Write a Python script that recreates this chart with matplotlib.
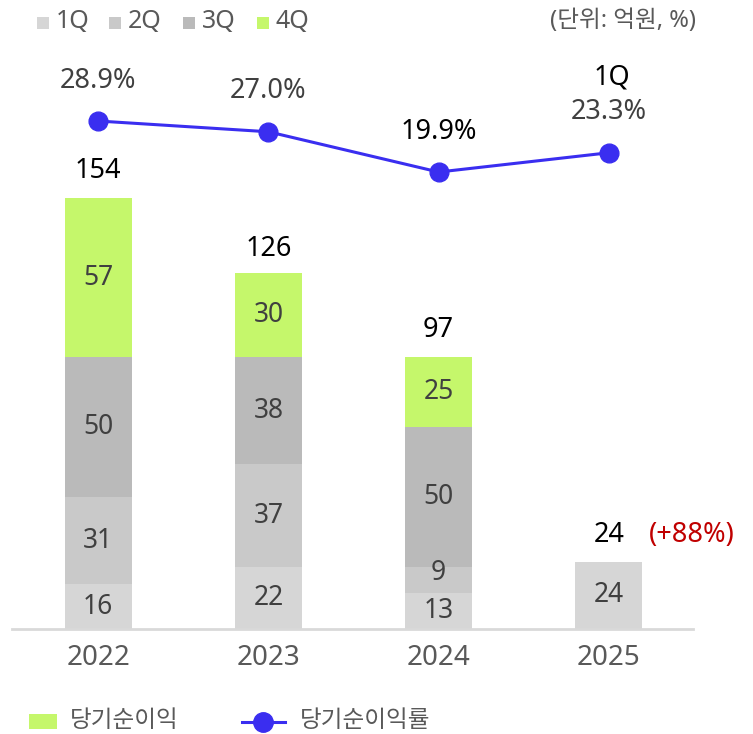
import matplotlib
matplotlib.use("Agg")
import matplotlib.pyplot as plt
from matplotlib.patches import Rectangle
from matplotlib.lines import Line2D
import numpy as np

plt.rcParams['font.family'] = ['Noto Sans', 'Noto Sans CJK KR', 'DejaVu Sans']

years = ['2022', '2023', '2024', '2025']
q1 = [16, 22, 13, 24]
q2 = [31, 37, 9, 0]
q3 = [50, 38, 50, 0]
q4 = [57, 30, 25, 0]
totals = [154, 126, 97, 24]
margin = [28.9, 27.0, 19.9, 23.3]
margin_labels = ['28.9%', '27.0%', '19.9%', '23.3%']
quarters = ['1Q', '2Q', '3Q', '4Q']

c_q = ['#d6d6d6', '#c9c9c9', '#bababa', '#c5f76b']
c_line = '#3a2ef0'
grey_txt = '#595959'
dark_txt = '#404040'

W, H = 753, 734
fig = plt.figure(figsize=(W / 100, H / 100), dpi=100)
# axes box in pixels: x 12..693, y 40..629 (from top)
ax = fig.add_axes([12 / W, (H - 629) / H, 681 / W, 589 / H])
x = np.arange(len(years))
bw = 0.394

bottom = np.zeros(len(years))
for vals, col in zip([q1, q2, q3, q4], c_q):
    vals = np.array(vals, dtype=float)
    ax.bar(x, vals, bw, bottom=bottom, color=col, linewidth=0, zorder=2)
    for i, v in enumerate(vals):
        if v > 0:
            yc = bottom[i] + v / 2
            dy = 5 if (i == 2 and v == 9) else 0
            ax.annotate(f'{int(v)}', (x[i], yc), xytext=(0, dy), textcoords='offset points',
                        ha='center', va='center', fontsize=19, color=dark_txt, zorder=4)
    bottom += vals

for i, t in enumerate(totals):
    ax.annotate(str(t), (x[i], t), xytext=(0, 19.5), textcoords='offset points',
                ha='center', va='center', fontsize=19.5, color='black')
ax.annotate('(+88%)', (x[3], totals[3]), xytext=(29, 19.5), textcoords='offset points',
            ha='left', va='center', fontsize=19.5, color='#c00000')

ax.set_xlim(-0.506, 3.494)
ax.set_ylim(0, 589 / 2.8)
for s in ['top', 'right', 'left']:
    ax.spines[s].set_visible(False)
ax.spines['bottom'].set_color('#d9d9d9')
ax.spines['bottom'].set_linewidth(2)
ax.set_yticks([])
ax.set_xticks(x)
ax.set_xticklabels(years, fontsize=20, color=grey_txt)
ax.tick_params(axis='x', length=0, pad=11)

ax2 = ax.twinx()
ax2.set_ylim(28.9 - 508 / 5.67, 28.9 + 81 / 5.67)
ax2.plot(x, margin, color=c_line, lw=2.2, marker='o', ms=13.5, zorder=5)
for i, lab in enumerate(margin_labels):
    col = 'black' if i == 2 else dark_txt
    ax2.annotate(lab, (x[i], margin[i]), xytext=(0, 29), textcoords='offset points',
                 ha='center', va='center', fontsize=19.5, color=col)
ax2.annotate('1Q', (x[3], margin[3]), xytext=(2, 54.5), textcoords='offset points',
             ha='center', va='center', fontsize=19.5, color='black')
ax2.axis('off')

# top legend
leg_x = [37, 109, 183, 257]
for lx, q, col in zip(leg_x, quarters, c_q):
    fig.patches.append(Rectangle((lx / W, 1 - 29 / H), 12 / W, 12 / H,
                                 transform=fig.transFigure, color=col, lw=0))
    fig.text((lx + 19) / W, 1 - 21 / H, q, fontsize=18, color=grey_txt,
             ha='left', va='center')
fig.text(696 / W, 1 - 21 / H, '(단위: 억원, %)', fontsize=17, color=grey_txt,
         ha='right', va='center')

# bottom legend
fig.patches.append(Rectangle((29 / W, 1 - 729 / H), 28 / W, 15 / H,
                             transform=fig.transFigure, color=c_q[3], lw=0))
fig.text(70 / W, 1 - 721 / H, '당기순이익', fontsize=17, color=grey_txt,
         ha='left', va='center')
fig.lines.append(Line2D([242 / W, 285 / W], [1 - 722 / H, 1 - 722 / H],
                        transform=fig.transFigure, color=c_line, lw=2.2,
                        marker=None))
fig.lines.append(Line2D([263 / W], [1 - 722 / H], transform=fig.transFigure,
                        color=c_line, marker='o', ms=14, lw=0))
fig.text(300 / W, 1 - 721 / H, '당기순이익률', fontsize=17, color=grey_txt,
         ha='left', va='center')

fig.savefig('out.png', dpi=100)
